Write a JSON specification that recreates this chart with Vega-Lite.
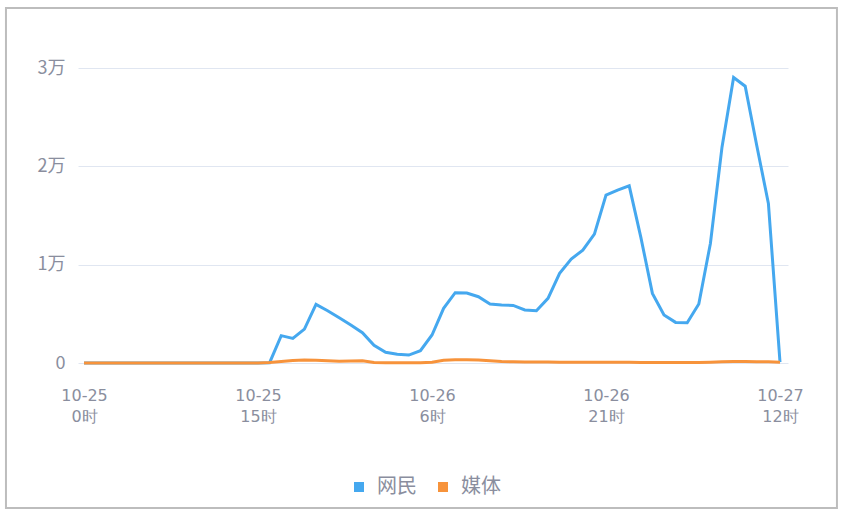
{
  "$schema": "https://vega.github.io/schema/vega-lite/v6.json",
  "width": 710,
  "height": 295,
  "autosize": "none",
  "padding": {"left": 78, "top": 68, "right": 58, "bottom": 153},
  "background": "white",
  "config": {
    "view": {"stroke": null},
    "font": "Noto Sans CJK SC",
    "axis": {"domain": false, "ticks": false, "labelColor": "#8a8e9e", "labelFont": "Noto Sans CJK SC", "labelFontSize": 18},
    "legend": {"labelFont": "Noto Sans CJK SC"}
  },
  "datasets": {
    "frame": [{"x1": -6.73, "x2": 64.91, "y1": -14746, "y2": 36102}]
  },
  "data": {
    "values": [
      {"h": 0, "a": 0, "b": 0}, {"h": 1, "a": 0, "b": 0}, {"h": 2, "a": 0, "b": 0}, {"h": 3, "a": 0, "b": 0},
      {"h": 4, "a": 0, "b": 0}, {"h": 5, "a": 0, "b": 0}, {"h": 6, "a": 0, "b": 0}, {"h": 7, "a": 0, "b": 0},
      {"h": 8, "a": 0, "b": 0}, {"h": 9, "a": 0, "b": 0}, {"h": 10, "a": 0, "b": 0}, {"h": 11, "a": 0, "b": 0},
      {"h": 12, "a": 0, "b": 0}, {"h": 13, "a": 0, "b": 0}, {"h": 14, "a": 0, "b": 0}, {"h": 15, "a": 0, "b": 10},
      {"h": 16, "a": 30, "b": 50}, {"h": 17, "a": 2780, "b": 150}, {"h": 18, "a": 2500, "b": 250}, {"h": 19, "a": 3450, "b": 300},
      {"h": 20, "a": 5960, "b": 280}, {"h": 21, "a": 5320, "b": 230}, {"h": 22, "a": 4600, "b": 180}, {"h": 23, "a": 3860, "b": 200},
      {"h": 24, "a": 3080, "b": 230}, {"h": 25, "a": 1800, "b": 50}, {"h": 26, "a": 1090, "b": 20}, {"h": 27, "a": 880, "b": 20},
      {"h": 28, "a": 810, "b": 20}, {"h": 29, "a": 1250, "b": 30}, {"h": 30, "a": 2850, "b": 80}, {"h": 31, "a": 5560, "b": 280},
      {"h": 32, "a": 7150, "b": 320}, {"h": 33, "a": 7110, "b": 320}, {"h": 34, "a": 6740, "b": 300}, {"h": 35, "a": 6000, "b": 220},
      {"h": 36, "a": 5890, "b": 150}, {"h": 37, "a": 5860, "b": 120}, {"h": 38, "a": 5390, "b": 100}, {"h": 39, "a": 5320, "b": 100},
      {"h": 40, "a": 6570, "b": 90}, {"h": 41, "a": 9110, "b": 80}, {"h": 42, "a": 10570, "b": 80}, {"h": 43, "a": 11480, "b": 70},
      {"h": 44, "a": 13110, "b": 70}, {"h": 45, "a": 17070, "b": 80}, {"h": 46, "a": 17580, "b": 80}, {"h": 47, "a": 18020, "b": 80},
      {"h": 48, "a": 12800, "b": 60}, {"h": 49, "a": 7080, "b": 50}, {"h": 50, "a": 4880, "b": 50}, {"h": 51, "a": 4130, "b": 50},
      {"h": 52, "a": 4100, "b": 50}, {"h": 53, "a": 6000, "b": 60}, {"h": 54, "a": 12160, "b": 80}, {"h": 55, "a": 21950, "b": 120},
      {"h": 56, "a": 29030, "b": 150}, {"h": 57, "a": 28150, "b": 150}, {"h": 58, "a": 22100, "b": 130}, {"h": 59, "a": 16230, "b": 120},
      {"h": 60, "a": 100, "b": 80}
    ]
  },
  "resolve": {"axis": {"x": "independent"}},
  "layer": [
    {
      "data": {"name": "frame"},
      "mark": {"type": "rect", "fill": null, "stroke": "#bdbdbd", "strokeWidth": 2, "clip": false},
      "encoding": {
        "x": {"field": "x1", "type": "quantitative", "axis": null},
        "x2": {"field": "x2"},
        "y": {"field": "y1", "type": "quantitative"},
        "y2": {"field": "y2"}
      }
    },
    {
      "transform": [
        {"fold": ["a", "b"], "as": ["k", "v"]},
        {"calculate": "datum.k == 'a' ? '网民' : '媒体'", "as": "s"}
      ],
      "mark": {"type": "line", "strokeWidth": 3, "interpolate": "linear"},
      "encoding": {
        "x": {
          "field": "h", "type": "quantitative",
          "scale": {"domain": [-0.52, 60.69], "nice": false, "zero": false},
          "axis": {
            "title": null, "grid": false, "orient": "bottom", "values": [0, 15, 30, 45, 60],
            "labelPadding": 24, "labelFontSize": 16, "labelFont": "DejaVu Sans",
            "labelExpr": "datum.value == 0 ? '10-25' : datum.value == 15 ? '10-25' : datum.value == 30 ? '10-26' : datum.value == 45 ? '10-26' : '10-27'"
          }
        },
        "y": {
          "field": "v", "type": "quantitative",
          "scale": {"domain": [0, 30000], "nice": false},
          "axis": {
            "title": null, "values": [0, 10000, 20000, 30000], "gridColor": "#e0e6f1", "gridWidth": 1,
            "labelPadding": 13,
            "labelExpr": "datum.value == 0 ? '0' : (datum.value / 10000) + '万'"
          }
        },
        "color": {
          "field": "s", "type": "nominal",
          "scale": {"domain": ["网民", "媒体"], "range": ["#45a8ef", "#f7933b"]},
          "legend": {
            "title": null, "orient": "none", "direction": "horizontal", "legendX": 271, "legendY": 409,
            "symbolType": "square", "symbolSize": 100, "symbolStrokeWidth": 0,
            "labelFontSize": 20, "labelColor": "#8a8e9e", "labelOffset": 8, "columnPadding": 16,
            "encode": {"symbols": {"update": {"fill": {"scale": "color", "field": "value"}}}}
          }
        }
      }
    },
    {
      "mark": {"type": "point", "opacity": 0},
      "encoding": {
        "x": {
          "field": "h", "type": "quantitative",
          "axis": {
            "title": null, "grid": false, "orient": "bottom", "values": [0, 15, 30, 45, 60],
            "labelPadding": 45, "labelFontSize": 16, "labelFont": "DejaVu Sans",
            "labelExpr": "datum.value == 0 ? '0时' : datum.value == 15 ? '15时' : datum.value == 30 ? '6时' : datum.value == 45 ? '21时' : '12时'"
          }
        },
        "y": {"datum": 0, "type": "quantitative"}
      }
    }
  ]
}
